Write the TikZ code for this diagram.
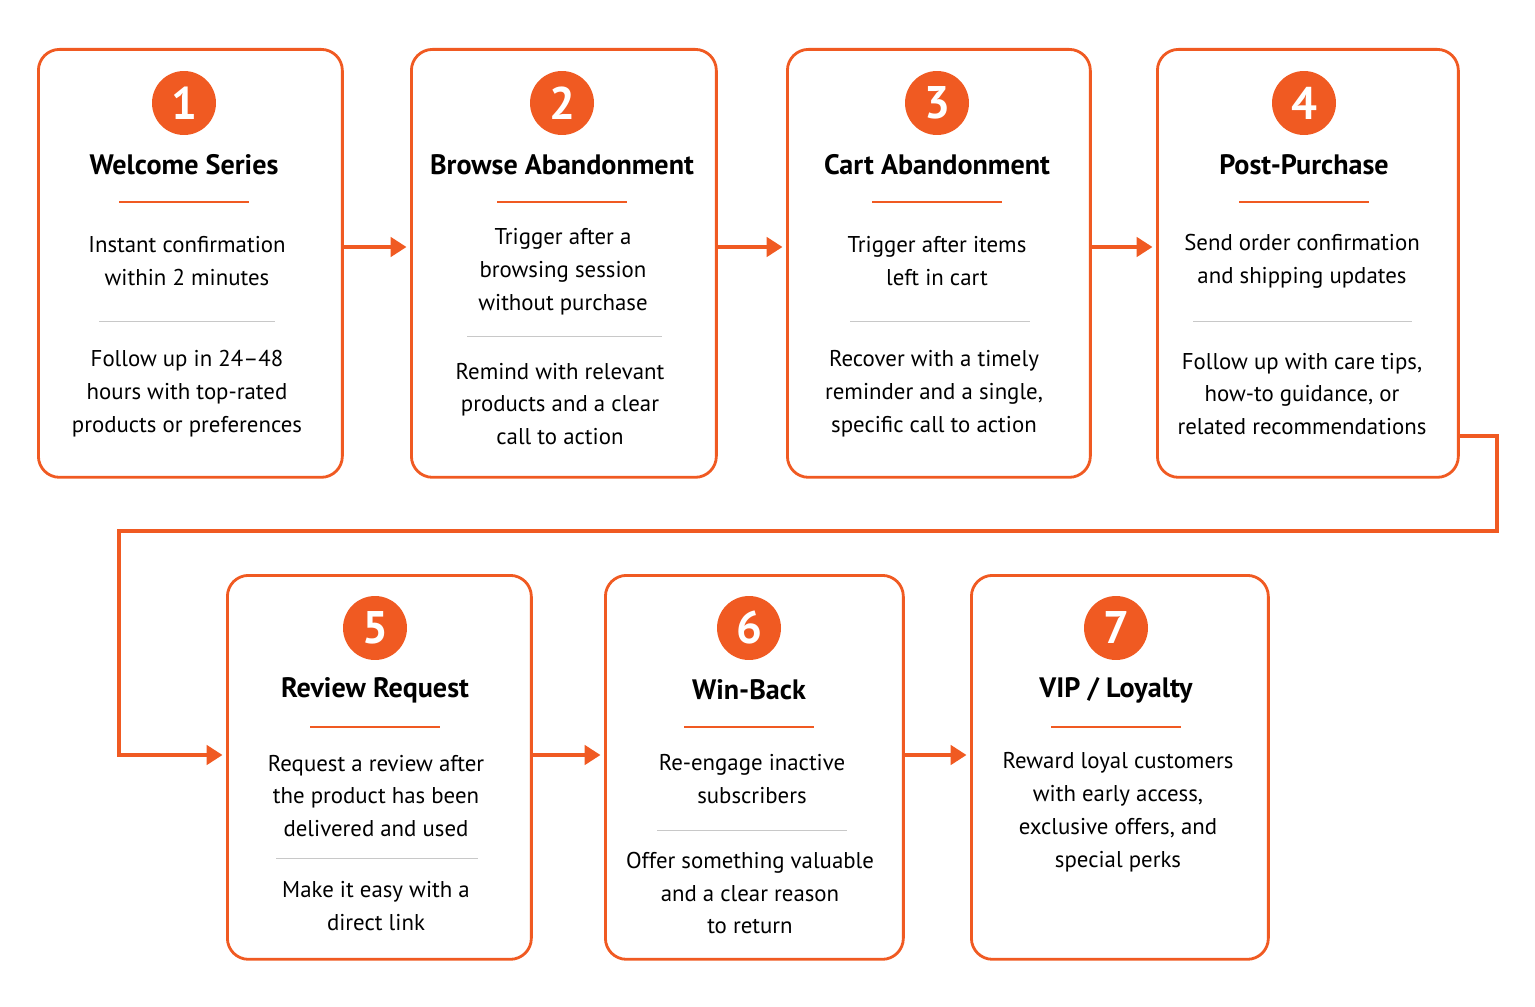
\documentclass[tikz,border=0pt]{standalone}
\usepackage{fontspec}
\setmainfont{PT Sans}
\usetikzlibrary{arrows.meta}
\definecolor{flow}{HTML}{F05A22}
\definecolor{rule}{HTML}{C8C8C8}
\tikzset{
  stage/.style = {draw=flow, line width=1.6pt, rounded corners=12pt, fill=white, anchor=north west},
  badge/.style = {circle, fill=flow, text=white, minimum size=1.28cm, inner sep=0pt, font=\fontsize{26}{26}\selectfont\bfseries},
  head/.style = {font=\fontsize{16}{18}\selectfont\bfseries},
  body/.style = {align=center, font=\fontsize{13}{18.7}\selectfont},
  link/.style = {draw=flow, line width=2pt, -{Triangle[length=9pt,width=11pt]}, shorten >=2pt},
}
\begin{document}
\begin{tikzpicture}[x=0.02cm, y=-0.02cm]
\useasboundingbox (0,0) rectangle (1535,1007);
% stage boxes
\node[stage, minimum width=6.08cm, minimum height=8.56cm] (b1) at (37,48) {};
\node[stage, minimum width=6.10cm, minimum height=8.56cm] (b2) at (410,48) {};
\node[stage, minimum width=6.06cm, minimum height=8.56cm] (b3) at (786,48) {};
\node[stage, minimum width=6.02cm, minimum height=8.56cm] (b4) at (1156,48) {};
\node[stage, minimum width=6.08cm, minimum height=7.68cm] (b5) at (226,574) {};
\node[stage, minimum width=5.96cm, minimum height=7.68cm] (b6) at (604,574) {};
\node[stage, minimum width=5.94cm, minimum height=7.68cm] (b7) at (970,574) {};
% badges and titles
\foreach \n/\x/\y/\t in {1/184/103/Welcome Series, 2/562/103/Browse Abandonment, 3/937/103/Cart Abandonment, 4/1304/103/Post-Purchase,
  5/375/628/Review Request, 6/749/628/Win-Back, 7/1116/628/{VIP / Loyalty}} {
  \node[badge] (n\n) at (\x,\y) {\n};
  \node[head] (t\n) at (\x,\y+62) {\t};
  \draw[flow, line width=1.6pt] (\x-65,\y+99) -- (\x+65,\y+99);
}
% texts
\node[body] (p1a) at (187,261) {Instant confirmation\\within 2 minutes};
\draw[rule] (99,321) -- (275,321);
\node[body] (p1b) at (187,394) {Follow up in 24–48\\hours with top-rated\\products or preferences};
\node[body] (p2a) at (563,272) {Trigger after a\\browsing session\\without purchase};
\draw[rule] (467,336) -- (662,336);
\node[body] (p2b) at (560,404) {Remind with relevant\\products and a clear\\call to action};
\node[body] (p3a) at (937,261) {Trigger after items\\left in cart};
\draw[rule] (850,321) -- (1030,321);
\node[body] (p3b) at (934,394) {Recover with a timely\\reminder and a single,\\specific call to action};
\node[body] (p4a) at (1302,261) {Send order confirmation\\and shipping updates};
\draw[rule] (1193,321) -- (1412,321);
\node[body] (p4b) at (1302,394) {Follow up with care tips,\\how-to guidance, or\\related recommendations};
\node[body] (p5a) at (376,796) {Request a review after\\the product has been\\delivered and used};
\draw[rule] (276,858) -- (478,858);
\node[body] (p5b) at (376,906) {Make it easy with a\\direct link};
\node[body] (p6a) at (752,779) {Re-engage inactive\\subscribers};
\draw[rule] (657,830) -- (847,830);
\node[body] (p6b) at (750,893) {Offer something valuable\\and a clear reason\\to return};
\node[body] (p7a) at (1118,812) {Reward loyal customers\\with early access,\\exclusive offers, and\\special perks};
% connectors
\coordinate (c1) at (1497,436);
\coordinate (c2) at (1497,531);
\coordinate (c3) at (119,531);
\coordinate (c4) at (119,755);
\draw[link] (b1.east |- 0,247) -- (b2.west |- 0,247);
\draw[link] (b2.east |- 0,247) -- (b3.west |- 0,247);
\draw[link] (b3.east |- 0,247) -- (b4.west |- 0,247);
\draw[link] (b4.east |- c1) -- (c1) -- (c2) -- (c3) -- (c4) -- (b5.west |- c4);
\draw[link] (b5.east |- c4) -- (b6.west |- c4);
\draw[link] (b6.east |- c4) -- (b7.west |- c4);
\end{tikzpicture}
\end{document}
